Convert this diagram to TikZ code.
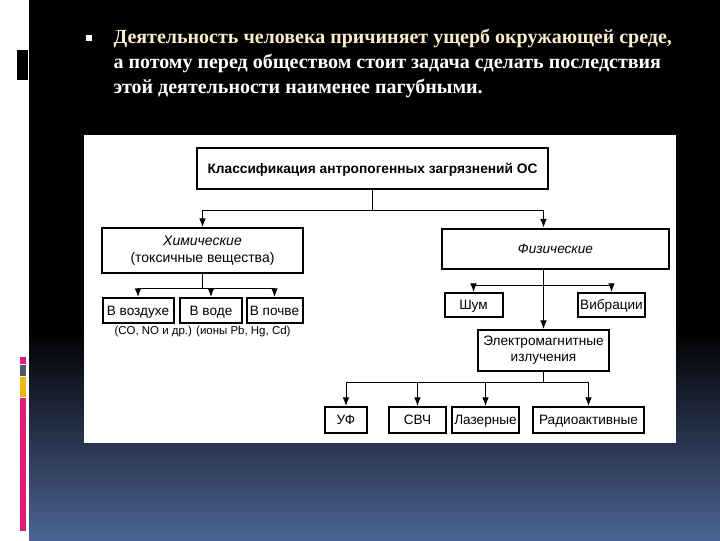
\documentclass[tikz,border=0pt]{standalone}
\usepackage{fontspec}
\setmainfont{Liberation Serif}
\setsansfont{Liberation Sans}
\usetikzlibrary{arrows.meta}

\definecolor{slideblue}{RGB}{76,100,148}
\definecolor{cream}{RGB}{250,236,205}
\definecolor{barpink}{RGB}{222,30,120}
\definecolor{bargray}{RGB}{80,90,100}
\definecolor{baryellow}{RGB}{240,180,20}

\tikzset{every picture/.style={line width=0.75pt}}
\tikzset{
  blk/.style={draw, line width=1.5pt, fill=white, inner sep=1pt, align=center, font=\sffamily\fontsize{10.2}{12}\selectfont},
  one/.style={blk, text height=7.3pt, text depth=0.3pt},
  arr/.style={-{Latex[length=6.5pt,width=5pt]}},
  line/.style={font=\bfseries\fontsize{15}{17}\selectfont, anchor=west, inner sep=0pt},
}

\begin{document}
\begin{tikzpicture}[x=0.75pt,y=0.75pt,yscale=-1,xscale=1]
\useasboundingbox (0,0) rectangle (720,540);

%Slide background
\fill[white] (0,0) rectangle (720,540);
\fill[black] (29,0) rectangle (720,331);
\shade[top color=black, bottom color=slideblue] (29,330) rectangle (720,540);
%Left bars
\fill[black] (17,50) rectangle (28,80);
\fill[barpink] (20,357) rectangle (26,364);
\fill[bargray] (20,365) rectangle (26,376);
\fill[baryellow] (20,377) rectangle (26,397);
\fill[barpink] (20,398) rectangle (26,531);

% Text Node
\node[fill=white, minimum size=4.5pt, inner sep=0pt] (bullet) at (89,38) {};
\node[line, text=cream] (l1) at (113,38) {Деятельность человека причиняет ущерб окружающей среде,};
\node[line, text=white] (l2) at (113,63) {а потому перед обществом стоит задача сделать последствия};
\node[line, text=white] (l3) at (113,88) {этой деятельности наименее пагубными.};

%Panel
\fill[white] (84,135) rectangle (676,443);

% Boxes
\node[one, minimum width=263.25pt, minimum height=30.75pt, font=\sffamily\bfseries\fontsize{10.3}{12}\selectfont] (title) at (372.5,168.5) {Классификация антропогенных загрязнений ОС};
\node[blk, minimum width=150.75pt, minimum height=33.75pt, font=\sffamily\fontsize{10.5}{12.5}\selectfont] (chem) at (202.5,250.5) {\itshape Химические\\(токсичные вещества)};
\node[one, minimum width=170.25pt, minimum height=30pt] (phys) at (555.5,248.5) {\itshape Физические};

\node[one, minimum width=53.25pt, minimum height=18.75pt] (air) at (138,310.5) {В воздухе};
\node[one, minimum width=46.5pt, minimum height=18.75pt] (water) at (211,310.5) {В воде};
\node[one, minimum width=42pt, minimum height=18.75pt] (soil) at (274.5,310.5) {В почве};
\node[inner sep=0pt, font=\sffamily\fontsize{8.6}{10}\selectfont] (note) at (202.5,332) {(CO, NO и др.) (ионы Pb, Hg, Cd)};

\node[one, minimum width=43.5pt, minimum height=18pt] (noise) at (473.5,305) {Шум};
\node[one, minimum width=50.25pt, minimum height=18pt] (vib) at (611.5,305) {Вибрации};
\node[blk, minimum width=98.25pt, minimum height=30.75pt] (em) at (543.5,350.5) {Электромагнитные\\излучения};

\node[one, minimum width=31.5pt, minimum height=19.5pt] (uf) at (346,420) {УФ};
\node[one, minimum width=42.75pt, minimum height=19.5pt] (shf) at (417.5,420) {СВЧ};
\node[one, minimum width=50.25pt, minimum height=19.5pt] (laser) at (485.5,420) {Лазерные};
\node[one, minimum width=83.25pt, minimum height=19.5pt] (radio) at (588.5,420) {Радиоактивные};

% Bus points
\coordinate (b1) at (372.5,210);
\coordinate (b2) at (202.5,288);
\coordinate (b3) at (543.5,285);
\coordinate (b4) at (543.5,382);

% Connectors
\draw (title.south) -- (b1);
\draw[arr] (b1) -| (chem.north);
\draw[arr] (b1) -| (phys.north -| em.north);
\draw (chem.south) -- (b2);
\draw[arr] (b2) -| (air.north);
\draw[arr] (b2) -| (water.north);
\draw[arr] (b2) -| (soil.north);
\draw[arr] (phys.south -| em.north) -- (em.north);
\draw[arr] (b3) -| (noise.north);
\draw[arr] (b3) -| (vib.north);
\draw (em.south) -- (b4);
\draw[arr] (b4) -| (uf.north);
\draw[arr] (b4) -| (shf.north);
\draw[arr] (b4) -| (laser.north);
\draw[arr] (b4) -| (radio.north);

\end{tikzpicture}
\end{document}
